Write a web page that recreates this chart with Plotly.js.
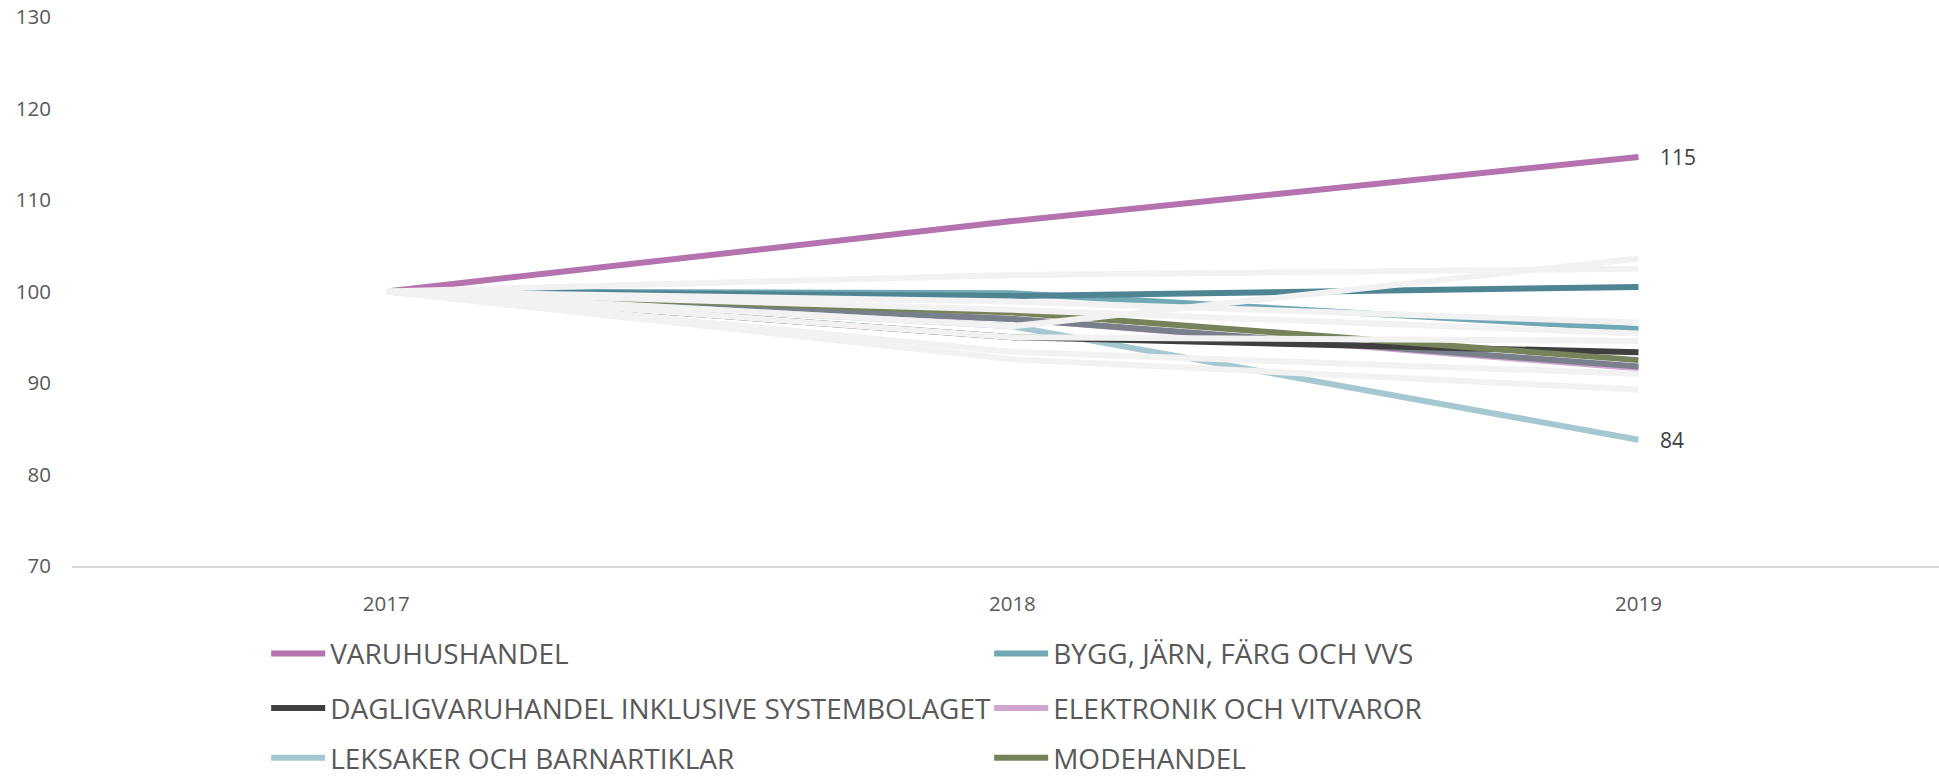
<!DOCTYPE html>
<html>
<head>
<meta charset="utf-8">
<script src="https://cdn.plot.ly/plotly-3.0.1.min.js"></script>
<style>
html,body{margin:0;padding:0;background:#fff;}
#chart{width:1939px;height:776px;}
</style>
</head>
<body>
<div id="chart"></div>
<script>
// ---- data ----
const years = ['2017', '2018', '2019'];
const yTicks = [70, 80, 90, 100, 110, 120, 130];

const varuhushandel = [100, 107.7, 114.7];
const bygg = [100, 99.8, 95.9];
const dagligvaruhandel = [100, 95.0, 93.35];
const elektronik = [100, 97.0, 91.6];
const leksaker = [100, 96.2, 83.8];
const modehandel = [100, 97.7, 92.5];
const ovrigMorkTurkos = [100, 99.5, 100.5];
const ovrigSkiffer = [100, 97.0, 91.8];

const gra1 = [100, 101.8, 102.5];
const gra2 = [100, 96.2, 103.6];
const gra3 = [100, 98.9, 96.6];
const gra4 = [100, 98.0, 95.4];
const gra5 = [100, 95.0, 94.6];
const gra6 = [100, 93.4, 91.0];
const gra7 = [100, 92.6, 89.3];

const names = {
  varuhus: 'VARUHUSHANDEL',
  bygg: 'BYGG, JÄRN, FÄRG OCH VVS',
  daglig: 'DAGLIGVARUHANDEL INKLUSIVE SYSTEMBOLAGET',
  elektronik: 'ELEKTRONIK OCH VITVAROR',
  leksaker: 'LEKSAKER OCH BARNARTIKLAR',
  mode: 'MODEHANDEL'
};

const LW = 6;
function line(y, color, name, legend, show) {
  return {
    type: 'scatter', mode: 'lines', x: years, y: y, name: name || '',
    line: {color: color, width: LW},
    showlegend: !!show, legend: legend || 'legend',
    hoverinfo: 'skip'
  };
}

const greys = [gra1, gra2, gra3, gra4, gra5, gra6, gra7];

const traces = [
  line(elektronik, '#d0a5cf', names.elektronik, 'legend2', true),
  line(ovrigSkiffer, '#7a7f8c'),
  line(leksaker, '#a5c8d0', names.leksaker, 'legend3', true),
  line(dagligvaruhandel, '#3f3f3f', names.daglig, 'legend2', true),
  line(modehandel, '#76825a', names.mode, 'legend3', true),
  line(bygg, '#72a8b5', names.bygg, 'legend', true),
  line(ovrigMorkTurkos, '#4f8592'),
  line(varuhushandel, '#b472ae', names.varuhus, 'legend', true)
];
greys.forEach(g => traces.push(line(g, '#f2f2f2')));

// legend order within each row: left column first
const orderMap = {};
orderMap[names.varuhus] = 1; orderMap[names.bygg] = 2;
orderMap[names.daglig] = 1; orderMap[names.elektronik] = 2;
orderMap[names.leksaker] = 1; orderMap[names.mode] = 2;
traces.forEach(t => { if (orderMap[t.name]) t.legendrank = orderMap[t.name]; });

const labelFont = {family: 'Open Sans, sans-serif', size: 21, color: '#404040'};
const annotations = [varuhushandel, leksaker].map(s => ({
  x: 2, y: s[2], xref: 'x', yref: 'y',
  text: String(Math.round(s[2])),
  showarrow: false, xanchor: 'left', yanchor: 'middle', xshift: 20,
  font: labelFont
}));

const legFont = {family: 'Open Sans, sans-serif', size: 28, color: '#595959'};
function leg(y) {
  return {
    orientation: 'h', x: 0.104, xanchor: 'left', y: y, yanchor: 'middle',
    xref: 'paper', yref: 'paper',
    font: legFont, itemwidth: 54, entrywidth: 654, bgcolor: 'rgba(0,0,0,0)',
    traceorder: 'normal', itemclick: false, itemdoubleclick: false
  };
}

const layout = {
  width: 1939, height: 776,
  margin: {l: 72, r: 0, t: 17, b: 210, autoexpand: false},
  paper_bgcolor: '#ffffff', plot_bgcolor: '#ffffff',
  showlegend: true,
  xaxis: {
    type: 'category', range: [-0.502, 2.48],
    showgrid: false, zeroline: false,
    showline: true, linecolor: '#d9d9d9', linewidth: 2,
    ticks: '', ticklabelstandoff: 18,
    tickfont: {family: 'Open Sans, sans-serif', size: 20.5, color: '#595959'}
  },
  yaxis: {
    range: [70, 130], tickvals: yTicks, ticktext: yTicks.map(String),
    showgrid: false, zeroline: false, showline: false,
    ticks: '', ticklabelstandoff: 20,
    tickfont: {family: 'Open Sans, sans-serif', size: 20.5, color: '#595959'}
  },
  legend: leg(-0.160),
  legend2: leg(-0.259),
  legend3: leg(-0.350),
  annotations: annotations
};

Plotly.newPlot('chart', traces, layout, {displayModeBar: false, staticPlot: true});
</script>
</body>
</html>
